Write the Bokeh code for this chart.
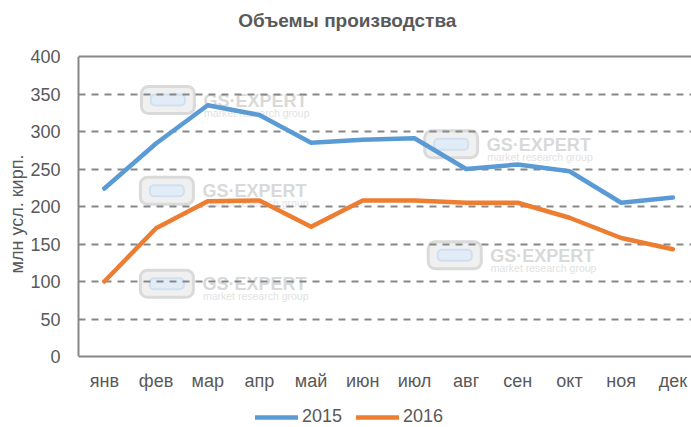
from bokeh.plotting import figure
from bokeh.models import FixedTicker, Span, Legend, LegendItem, ColumnDataSource, Label
from bokeh.embed import file_html
from bokeh.resources import INLINE
from bokeh.core.properties import value

# ---- data -------------------------------------------------------------
months = ["янв", "фев", "мар", "апр", "май", "июн", "июл", "авг", "сен", "окт", "ноя", "дек"]
prod_2015 = [224, 284, 335, 322, 285, 289, 291, 250, 256, 247, 205, 212]
prod_2016 = [100, 171, 207, 208, 173, 208, 208, 205, 205, 185, 158, 143]
y_ticks = [0, 50, 100, 150, 200, 250, 300, 350, 400]

# watermark anchors (data coords)
wm_x = [1.73, 7.21, 1.71, 7.28, 1.71]
wm_y = [342, 283, 221, 135, 97]

FONT = "Liberation Sans"
TXT = "#595959"
GRID = "#878787"
BLUE = "#5B9BD5"
ORANGE = "#ED7D31"

W, H = 691, 427
LEFT = 78                 # px reserved for the value axis
PLOT_TOP, PLOT_BOTTOM = 56, 356   # px of the 400 and 0 levels
px_per_unit = (PLOT_BOTTOM - PLOT_TOP) / y_ticks[-1]
y_lo = -(H - PLOT_BOTTOM) / px_per_unit
y_hi = y_ticks[-1] + PLOT_TOP / px_per_unit

x = [i + 0.5 for i in range(len(months))]

p = figure(width=W, height=H, output_backend="svg", toolbar_location=None,
           x_range=(0, 11.86), y_range=(y_lo, y_hi),
           min_border_left=LEFT, min_border_right=0, min_border_top=0, min_border_bottom=0)
p.outline_line_color = None
p.background_fill_color = "white"
p.border_fill_color = "white"

# title (inside the frame area above the 400 line)
p.add_layout(Label(x=5.2, y=y_ticks[-1] + 36 / px_per_unit, text="Объемы производства",
                   text_align="center", text_baseline="middle",
                   text_font=FONT, text_font_size="19px", text_font_style="bold",
                   text_color=TXT))

# axes
p.xaxis.ticker = FixedTicker(ticks=x)
p.xaxis.major_label_overrides = {xi: m for xi, m in zip(x, months)}
p.xaxis.fixed_location = 0
p.yaxis.ticker = FixedTicker(ticks=y_ticks)
p.yaxis.bounds = (y_ticks[0], y_ticks[-1])
for ax in (p.xaxis[0], p.yaxis[0]):
    ax.axis_line_color = GRID
    ax.axis_line_width = 2
    ax.major_tick_line_color = None
    ax.minor_tick_line_color = None
    ax.major_label_text_font = FONT
    ax.major_label_text_font_size = "18px"
    ax.major_label_text_color = TXT
p.xaxis.major_label_standoff = 8
p.yaxis.major_label_standoff = 12
p.yaxis.axis_label = "млн усл. кирп."
p.yaxis.axis_label_text_font = FONT
p.yaxis.axis_label_text_font_size = "18px"
p.yaxis.axis_label_text_font_style = "normal"
p.yaxis.axis_label_text_color = TXT
p.yaxis.axis_label_standoff = 0

# grid
p.xgrid.visible = False
p.ygrid.ticker = FixedTicker(ticks=y_ticks[1:-1])
p.ygrid.grid_line_color = GRID
p.ygrid.grid_line_width = 2
p.ygrid.grid_line_dash = "7 6"
p.add_layout(Span(location=y_ticks[-1], dimension="width", line_color=GRID, line_width=2))

# watermarks
wsrc = ColumnDataSource(dict(x=wm_x, y=wm_y))
r = p.rect("x", "y", width=53, height=27, width_units="screen", height_units="screen",
           fill_color="#f0f0f0", line_color="#dadada", line_width=3, border_radius=7, source=wsrc)
r.level = "image"
r = p.rect("x", "y", width=34, height=11, width_units="screen", height_units="screen",
           fill_color="#e1ecf7", line_color="#cfe0f0", line_width=2, border_radius=4, source=wsrc)
r.level = "image"
r = p.text("x", "y", text=value("GS·EXPERT"), x_offset=35.5, y_offset=0.5, text_baseline="middle",
           text_font=value(FONT), text_font_style="bold", text_font_size=value("18px"),
           text_color="#d9d9d9", source=wsrc)
r.level = "image"
r = p.text("x", "y", text=value("market research group"), x_offset=36, y_offset=12.5, text_baseline="middle",
           text_font=value(FONT), text_font_size=value("10.5px"),
           text_color="#e2e2e2", source=wsrc)
r.level = "image"

# series
src = ColumnDataSource(dict(x=x, y15=prod_2015, y16=prod_2016))
r15 = p.line("x", "y15", source=src, line_color=BLUE, line_width=4.5, line_join="round", line_cap="round")
r16 = p.line("x", "y16", source=src, line_color=ORANGE, line_width=4.5, line_join="round", line_cap="round")

legend = Legend(items=[LegendItem(label="2015", renderers=[r15]),
                       LegendItem(label="2016", renderers=[r16])],
                orientation="horizontal", location=(177, 0),
                label_text_font=FONT, label_text_font_size="18px", label_text_color=TXT,
                glyph_width=43, glyph_height=20, label_standoff=4, spacing=14,
                padding=0, margin=0, border_line_color=None, background_fill_alpha=0)
p.add_layout(legend)

open("out.html", "w").write(file_html(p, INLINE))
